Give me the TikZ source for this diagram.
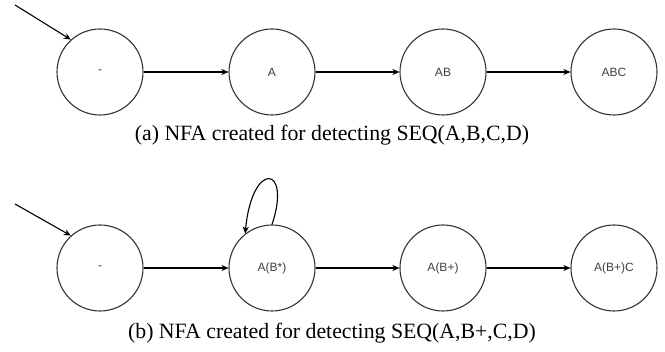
\documentclass[tikz,border=0pt]{standalone}
\usepackage{fontspec}
\setmainfont{Liberation Serif}
\newfontfamily\labelfont{Liberation Sans}
\usetikzlibrary{arrows.meta}
\begin{document}
\begin{tikzpicture}[x=1pt,y=-1pt,
  state/.style={circle,draw=black!80,line width=1.1pt,minimum size=86pt,inner sep=0pt,
    font=\labelfont\fontsize{12}{14}\selectfont,text=black!75},
  edge/.style={line width=1.1pt,-{Stealth[length=7pt,width=6pt,inset=2pt]}},
  caption/.style={font=\fontsize{21.8}{26}\selectfont,inner sep=0pt}]
\useasboundingbox (0,0) rectangle (665,352);

% (a) chain of states for SEQ(A,B,C,D)
\node[state] (a0) at (100,72) {-};
\node[state] (a1) at (272,72) {A};
\node[state] (a2) at (443,72) {AB};
\node[state] (a3) at (614,72) {ABC};
\coordinate (ain) at (15,5);
\draw[edge] (ain) -- (a0.132);
\draw[edge] (a0) -- (a1);
\draw[edge] (a1) -- (a2);
\draw[edge] (a2) -- (a3);
\node[caption] (capa) at (332,135) {(a) NFA created for detecting SEQ(A,B,C,D)};

% (b) chain of states for SEQ(A,B+,C,D) with a self loop
\node[state] (b0) at (100,268) {-};
\node[state] (b1) at (272,268) {A(B*)};
\node[state] (b2) at (443,268) {A(B+)};
\node[state] (b3) at (614,268) {A(B+)C};
\coordinate (bin) at (15,204);
\draw[edge] (bin) -- (b0.132);
\draw[edge] (b0) -- (b1);
\draw[edge] (b1) -- (b2);
\draw[edge] (b2) -- (b3);
\draw[edge] (b1.90) .. controls (292,165) and (252,160) .. (b1.128);
\node[caption] (capb) at (332,333) {(b) NFA created for detecting SEQ(A,B+,C,D)};
\end{tikzpicture}
\end{document}
